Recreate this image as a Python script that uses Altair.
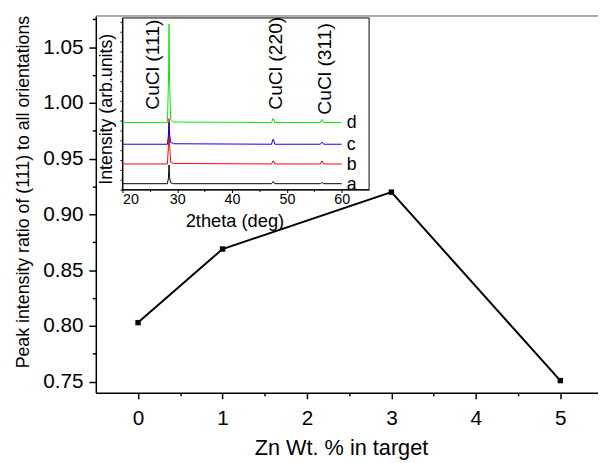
import altair as alt
import pandas as pd

FONT = "Liberation Sans"

# ---------------- main data ----------------
zn_wt = [0, 1, 3, 5]
ratio = [0.803, 0.869, 0.920, 0.751]

main_x_domain = [-0.5, 5.446]
main_y_domain = [0.740, 1.078]
main_x_ticks = [0, 0.5, 1, 1.5, 2, 2.5, 3, 3.5, 4, 4.5, 5]
main_y_ticks = [0.75, 0.775, 0.80, 0.825, 0.85, 0.875, 0.90, 0.925, 0.95,
                0.975, 1.00, 1.025, 1.05, 1.075]

# ---------------- inset (XRD) data ----------------
two_theta = [20, 28.2, 28.4, 28.5, 28.6, 28.8, 29.3, 47.2, 47.45, 47.55, 47.8,
             56.1, 56.35, 56.45, 56.7, 60]
int_a = [6, 6, 12, 25, 12, 7, 6, 6, 8, 8, 6, 6, 7, 7, 6, 6]
int_b = [26, 26, 45, 72, 45, 28, 26.5, 26, 29, 29, 26, 26, 29, 29, 26, 26]
int_c = [46, 46, 56, 68, 56, 48, 46.5, 46, 51, 51, 46, 46, 48, 48, 46, 46]
int_d = [68, 68, 110, 168, 110, 71, 68.5, 68, 72, 72, 68, 68, 71, 71, 68, 68]
series_names = ["a", "b", "c", "d"]
series_colors = ["#000000", "#ff0000", "#0000ff", "#00ee00"]

inset_x_domain = [20, 65]
inset_y_domain = [0, 174]
inset_x_ticks = [20, 25, 30, 35, 40, 45, 50, 55, 60]
inset_y_ticks = [0, 10, 20, 30, 40, 50, 60, 70, 80, 90, 100, 110, 120, 130,
                 140, 150, 160, 170]

ann_text = ["CuCl (111)", "CuCl (220)", "CuCl (311)"]
ann_theta = [25.5, 48.1, 56.9]
ann_int = [81, 81, 76]

# ---------------- frames ----------------
main_df = pd.DataFrame({"zn": zn_wt, "ratio": ratio})

rows = []
for name, vals in zip(series_names, [int_a, int_b, int_c, int_d]):
    for t, v in zip(two_theta, vals):
        rows.append({"series": name, "theta": t, "intensity": v})
xrd_df = pd.DataFrame(rows)

lab_df = pd.DataFrame({
    "series": series_names,
    "theta": [two_theta[-1]] * 4,
    "intensity": [int_a[-1], int_b[-1], int_c[-1], int_d[-1]],
})
ann_df = pd.DataFrame({"text": ann_text, "theta": ann_theta, "intensity": ann_int})
frame_df = pd.DataFrame({"theta": [inset_x_domain[0]], "theta2": [inset_x_domain[1]],
                         "intensity": [inset_y_domain[0]], "intensity2": [inset_y_domain[1]]})
top_df = pd.DataFrame({"zn": [main_x_domain[0]], "zn2": [main_x_domain[1]],
                       "ratio": [main_y_domain[1]]})

# ---------------- main chart ----------------
mx = alt.X("zn:Q",
           scale=alt.Scale(domain=main_x_domain, nice=False, zero=False),
           axis=alt.Axis(orient="bottom", values=main_x_ticks, format=".0f",
                         labelExpr="datum.value % 1 === 0 ? datum.label : ''",
                         tickSize={"condition": {"test": "datum.value % 1 === 0", "value": 6}, "value": 3},
                         tickWidth=1.5, tickColor="black", domainColor="black", domainWidth=1.5,
                         labelFont=FONT, labelFontSize=21, labelColor="black", labelPadding=9,
                         grid=False, title="Zn Wt. % in target", titleFont=FONT, titleFontSize=22,
                         titleFontWeight="normal", titleColor="black",
                         titleX=248.5, titleY=62, titleBaseline="alphabetic"))
my = alt.Y("ratio:Q",
           scale=alt.Scale(domain=main_y_domain, nice=False, zero=False),
           axis=alt.Axis(orient="left", values=main_y_ticks, format=".2f",
                         labelExpr="round(datum.value*1000) % 50 === 0 ? datum.label : ''",
                         tickSize={"condition": {"test": "round(datum.value*1000) % 50 === 0", "value": 7}, "value": 3.5},
                         tickWidth=1.5, tickColor="black", domainColor="black", domainWidth=1.5,
                         labelFont=FONT, labelFontSize=21, labelColor="black", labelPadding=6,
                         grid=False, title="Peak intensity ratio of (111) to all orientations",
                         titleFont=FONT, titleFontSize=18, titleFontWeight="normal", titleColor="black",
                         titleX=-73, titleY=178, titleBaseline="middle"))

main_line = alt.Chart(main_df).mark_line(color="black", strokeWidth=2).encode(x=mx, y=my)
main_pts = alt.Chart(main_df).mark_point(shape="square", filled=True, size=30,
                                         color="black", opacity=1).encode(x=mx, y=my)
top_rule = alt.Chart(top_df).mark_rule(color="#555555", strokeWidth=1).encode(
    x=mx, x2="zn2:Q", y=my)
main_layer = alt.layer(top_rule, main_line, main_pts)

# ---------------- inset chart ----------------
ix = alt.X("theta:Q",
           scale=alt.Scale(domain=inset_x_domain, range=[27, 277], nice=False, zero=False),
           axis=alt.Axis(orient="bottom", offset=-206, values=inset_x_ticks,
                         labelExpr="datum.value % 10 === 0 ? datum.label : ''",
                         tickSize={"condition": {"test": "datum.value % 10 === 0", "value": 3}, "value": 2},
                         tickColor="black", domainColor="black", domainWidth=1,
                         labelFont=FONT, labelFontSize=14.5, labelColor="black", labelPadding=0,
                         grid=False, title="2theta (deg)", titleFont=FONT, titleFontSize=18.5,
                         titleFontWeight="normal", titleColor="black",
                         titleX=140.5, titleY=37, titleBaseline="alphabetic"))
iy = alt.Y("intensity:Q",
           scale=alt.Scale(domain=inset_y_domain, range=[176, 2], nice=False, zero=False),
           axis=alt.Axis(orient="left", offset=-27, values=inset_y_ticks, labels=False,
                         tickSize=2.5, tickColor="black", domainColor="black", domainWidth=1,
                         grid=False, title="Intensity (arb.units)", titleFont=FONT,
                         titleFontSize=18, titleFontWeight="normal", titleColor="black",
                         titleX=-16, titleY=94, titleBaseline="middle"))

frame = alt.Chart(frame_df).mark_rect(filled=False, stroke="black", strokeWidth=1).encode(
    x=ix, x2="theta2:Q", y=iy, y2="intensity2:Q")
xrd_lines = alt.Chart(xrd_df).mark_line(strokeWidth=1).encode(
    x=ix, y=iy,
    color=alt.Color("series:N", scale=alt.Scale(domain=series_names, range=series_colors),
                    legend=None))
xrd_labels = alt.Chart(lab_df).mark_text(font=FONT, fontSize=18, align="left",
                                         baseline="alphabetic", dx=5, dy=6,
                                         color="black").encode(x=ix, y=iy, text="series:N")
xrd_ann = alt.Chart(ann_df).mark_text(font=FONT, fontSize=19.5, angle=270, align="left",
                                      baseline="middle", color="black").encode(
    x=ix, y=iy, text="text:N")
inset_layer = alt.layer(frame, xrd_lines, xrd_labels, xrd_ann)

chart = alt.layer(main_layer, inset_layer).resolve_scale(
    x="independent", y="independent", color="independent"
).resolve_axis(x="independent", y="independent").properties(
    width=509, height=382,
    autosize=alt.AutoSizeParams(type="none"),
    padding={"left": 89, "top": 5, "right": 0, "bottom": 68},
    background="white",
).configure_view(stroke=None)

chart.save("out.html", embed_options={"renderer": "svg", "actions": False})
